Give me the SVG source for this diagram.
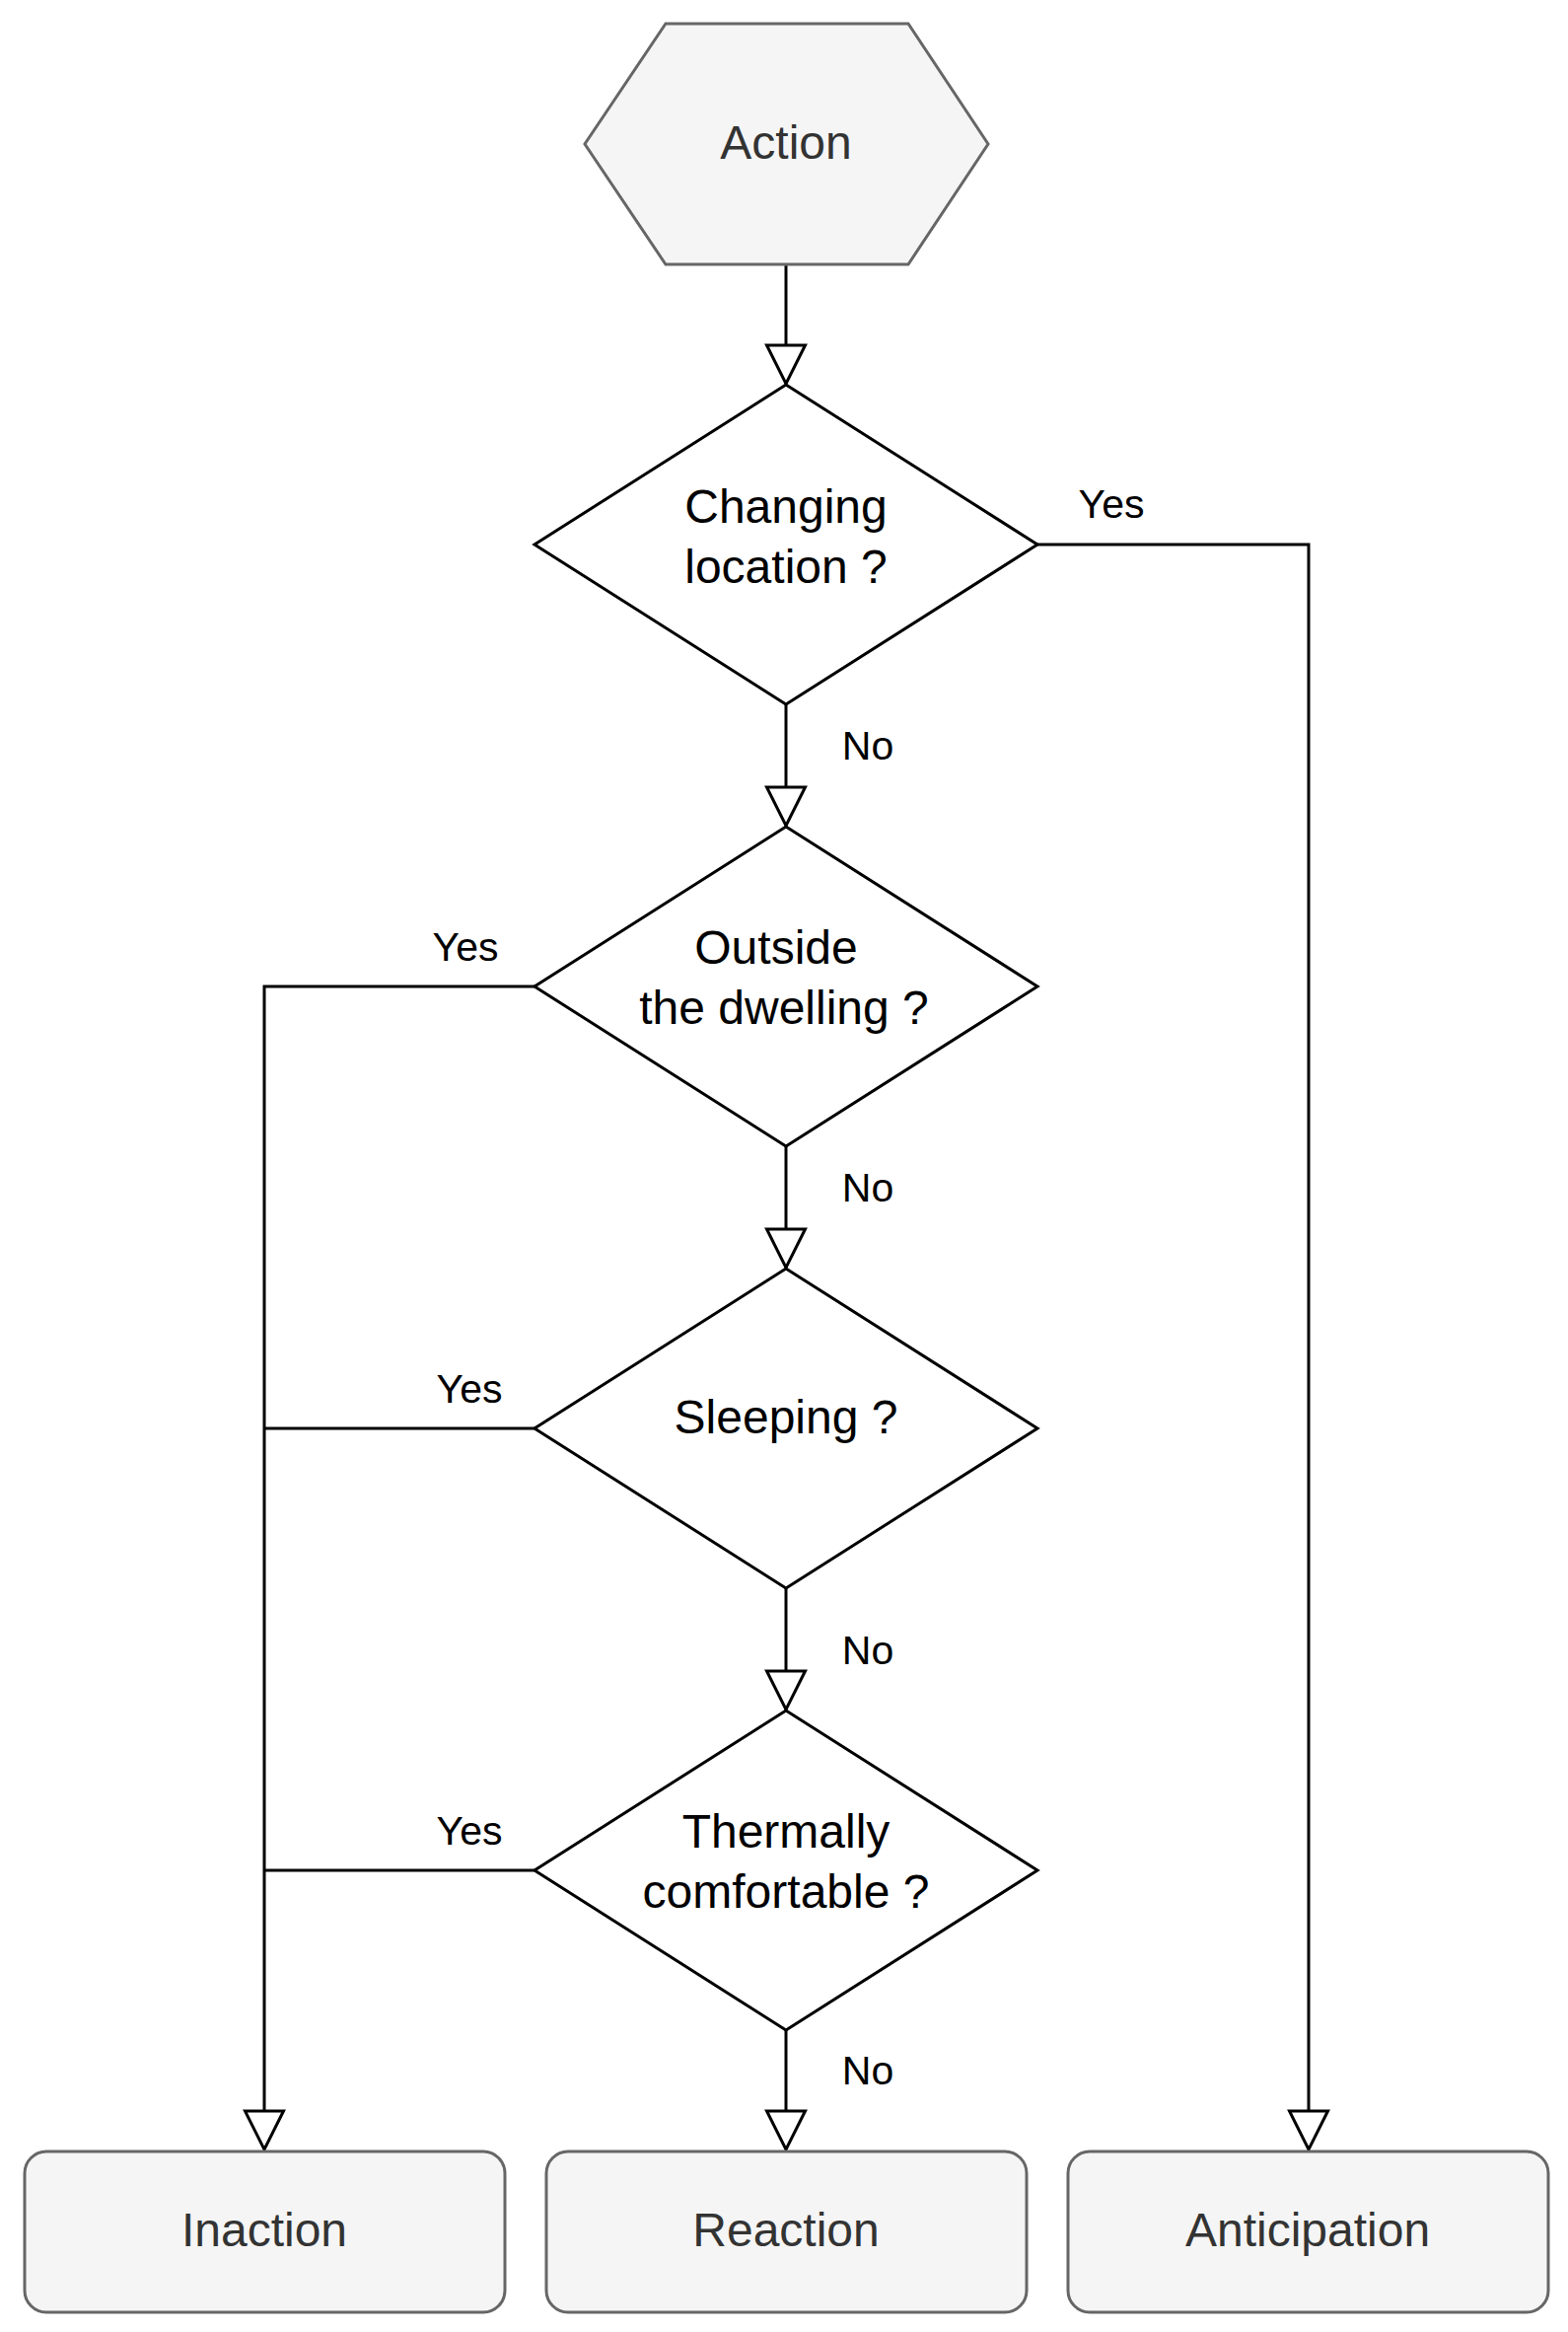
<svg xmlns="http://www.w3.org/2000/svg" width="1590" height="2364" viewBox="0 0 1590 2364">
<style>
.gray{fill:#f5f5f5;stroke:#666666;stroke-width:3}
.dec{fill:#ffffff;stroke:#000000;stroke-width:3}
.t{font-family:"Liberation Sans",Arial,sans-serif;font-size:48px;text-anchor:middle}
.tg{fill:#333333}
.tb{fill:#000000}
.lbl{font-family:"Liberation Sans",Arial,sans-serif;font-size:41px;text-anchor:middle;fill:#000000}
.edge{fill:none;stroke:#000000;stroke-width:3}
</style>
<defs>
<marker id="open" markerUnits="userSpaceOnUse" markerWidth="48" markerHeight="48" viewBox="-4 -4 48 48" refX="39" refY="19.5" orient="auto">
<path d="M0,0 L39,19.5 L0,39 Z" fill="#ffffff" stroke="#000000" stroke-width="3"/>
</marker>
</defs>
<rect width="1590" height="2364" fill="#ffffff"/>
<g id="connectors">
<path class="edge" d="M797,268 V389" marker-end="url(#open)"/>
<path class="edge" d="M797,714 V837" marker-end="url(#open)"/>
<path class="edge" d="M797,1162 V1285" marker-end="url(#open)"/>
<path class="edge" d="M797,1610 V1733" marker-end="url(#open)"/>
<path class="edge" d="M797,2058 V2179" marker-end="url(#open)"/>
<path class="edge" d="M1052,552 H1327 V2179" marker-end="url(#open)"/>
<path class="edge" d="M542,1000 H268 V2179" marker-end="url(#open)"/>
<path class="edge" d="M542,1448 H268"/>
<path class="edge" d="M542,1896 H268"/>
<text class="lbl" x="1127" y="525">Yes</text>
<text class="lbl" x="880" y="770">No</text>
<text class="lbl" x="472" y="974">Yes</text>
<text class="lbl" x="880" y="1218">No</text>
<text class="lbl" x="476" y="1422">Yes</text>
<text class="lbl" x="880" y="1687">No</text>
<text class="lbl" x="476" y="1870">Yes</text>
<text class="lbl" x="880" y="2113">No</text>
</g>
<g id="action">
<polygon class="gray" points="675,24 921,24 1002,146 921,268 675,268 593,146"/>
<text class="t tg" x="797" y="161">Action</text>
</g>
<g id="changing-location">
<polygon class="dec" points="797,390 1052,552 797,714 542,552"/>
<text class="t tb" x="797" y="530">Changing</text>
<text class="t tb" x="797" y="591">location ?</text>
</g>
<g id="outside-dwelling">
<polygon class="dec" points="797,838 1052,1000 797,1162 542,1000"/>
<text class="t tb" x="787" y="977">Outside</text>
<text class="t tb" x="795" y="1038">the dwelling ?</text>
</g>
<g id="sleeping">
<polygon class="dec" points="797,1286 1052,1448 797,1610 542,1448"/>
<text class="t tb" x="797" y="1453">Sleeping ?</text>
</g>
<g id="thermally-comfortable">
<polygon class="dec" points="797,1734 1052,1896 797,2058 542,1896"/>
<text class="t tb" x="797" y="1873">Thermally</text>
<text class="t tb" x="797" y="1934">comfortable ?</text>
</g>
<g id="inaction">
<rect class="gray" x="25" y="2181" width="487" height="163" rx="22" ry="22"/>
<text class="t tg" x="268" y="2277">Inaction</text>
</g>
<g id="reaction">
<rect class="gray" x="554" y="2181" width="487" height="163" rx="22" ry="22"/>
<text class="t tg" x="797" y="2277">Reaction</text>
</g>
<g id="anticipation">
<rect class="gray" x="1083" y="2181" width="487" height="163" rx="22" ry="22"/>
<text class="t tg" x="1326" y="2277">Anticipation</text>
</g>
</svg>
